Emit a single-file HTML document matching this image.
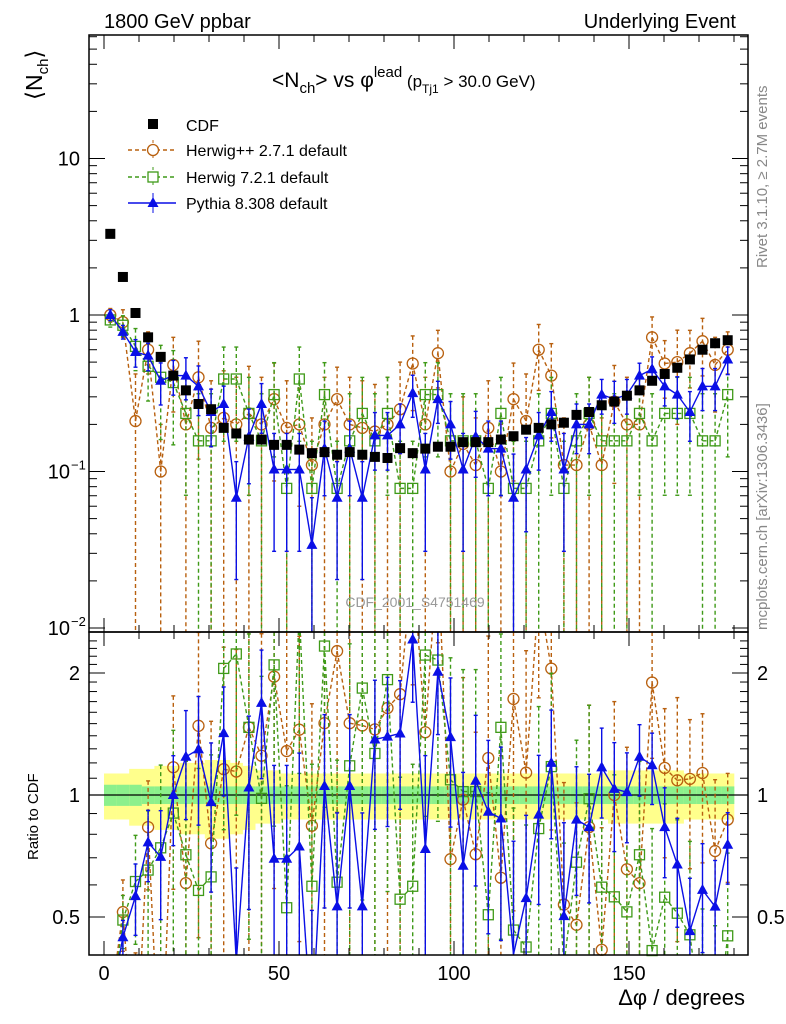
<!DOCTYPE html>
<html><head><meta charset="utf-8"><style>
html,body{margin:0;padding:0;background:#fff;width:786px;height:1024px;overflow:hidden;position:relative;}
svg{display:block;font-family:"Liberation Sans",sans-serif;overflow:hidden;}
</style></head><body>
<svg id="c" width="786" height="1024" viewBox="0 0 786 1024" style="position:absolute;left:0;top:0"></svg>
<script>
const binCenters=[1.8,5.4,9,12.6,16.2,19.8,23.4,27,30.6,34.2,37.8,41.4,45,48.6,52.2,55.8,59.4,63,66.6,70.2,73.8,77.4,81,84.6,88.2,91.8,95.4,99,102.6,106.2,109.8,113.4,117,120.6,124.2,127.8,131.4,135,138.6,142.2,145.8,149.4,153,156.6,160.2,163.8,167.4,171,174.6,178.2];
const cdf=[3.3,1.75,1.03,0.72,0.54,0.41,0.33,0.27,0.25,0.19,0.175,0.16,0.16,0.148,0.148,0.138,0.131,0.133,0.128,0.133,0.128,0.124,0.122,0.141,0.131,0.14,0.144,0.144,0.154,0.154,0.154,0.16,0.168,0.185,0.19,0.2,0.205,0.23,0.24,0.265,0.28,0.305,0.33,0.38,0.42,0.46,0.52,0.6,0.66,0.69];
const herwigPP=[1.0,0.9,0.21,0.6,0.1,0.48,0.2,0.4,0.19,0.22,0.2,0.235,0.2,0.29,0.19,0.2,0.11,0.2,0.29,0.2,0.19,0.18,0.2,0.25,0.49,0.2,0.57,0.1,0.15,0.11,0.19,0.1,0.29,0.21,0.6,0.41,0.11,0.11,0.2,0.11,0.28,0.2,0.2,0.72,0.49,0.5,0.57,0.68,0.48,0.6];
const herwig7=[0.93,0.86,0.63,0.47,0.4,0.37,0.235,0.157,0.157,0.39,0.39,0.235,0.157,0.31,0.078,0.39,0.078,0.31,0.078,0.157,0.235,0.157,0.235,0.078,0.078,0.31,0.31,0.157,0.157,0.157,0.078,0.235,0.078,0.078,0.157,0.235,0.078,0.157,0.235,0.157,0.157,0.157,0.235,0.157,0.235,0.235,0.235,0.157,0.157,0.31];
const pythia=[1.0,0.78,0.58,0.55,0.38,0.41,0.41,0.35,0.24,0.27,0.068,0.167,0.27,0.103,0.103,0.103,0.034,0.14,0.068,0.14,0.068,0.17,0.17,0.2,0.317,0.103,0.29,0.2,0.103,0.167,0.14,0.14,0.068,0.103,0.17,0.24,0.103,0.2,0.2,0.31,0.29,0.31,0.41,0.45,0.35,0.31,0.24,0.35,0.35,0.52];
const errPP=[0.1,0.2,1,0.3,1,0.5,1,0.7,1,1,1,1,1,0.7,1,0.7,1,1,0.6,1,1,1,1,1,0.5,1,0.4,1,1,1,1,1,0.7,1,0.45,0.6,1,1,1,1,0.7,1,1,0.35,0.4,0.6,0.4,0.4,0.5,0.3];
const err7=[0.1,0.15,0.3,0.4,0.6,0.6,0.7,1,1,0.6,0.6,0.7,1,0.6,1,0.6,1,0.6,1,1,0.7,1,0.7,1,1,0.6,0.6,1,1,1,1,0.7,1,1,1,0.7,1,1,0.7,1,1,1,0.7,1,0.7,0.7,0.7,1,1,0.6];
const errPy=[0.08,0.1,0.2,0.2,0.3,0.25,0.3,0.35,0.4,0.3,0.7,0.5,0.35,0.7,0.7,0.7,1,0.5,0.7,0.5,0.7,0.4,0.4,0.35,0.3,0.7,0.3,0.4,0.7,0.45,0.5,0.5,0.9,0.6,0.4,0.35,0.7,0.35,0.35,0.25,0.3,0.25,0.2,0.2,0.25,0.3,0.35,0.3,0.3,0.2];
const bandStat=[0.06,0.06,0.06,0.05,0.05,0.05,0.05,0.05,0.05,0.05,0.05,0.05,0.05,0.05,0.05,0.05,0.05,0.05,0.05,0.05,0.05,0.05,0.05,0.05,0.05,0.05,0.05,0.05,0.05,0.05,0.05,0.05,0.05,0.05,0.05,0.05,0.05,0.05,0.05,0.05,0.05,0.05,0.05,0.05,0.05,0.05,0.05,0.05,0.05,0.05];
const bandTot=[0.13,0.13,0.16,0.16,0.18,0.18,0.2,0.2,0.22,0.22,0.2,0.18,0.15,0.15,0.13,0.13,0.13,0.13,0.13,0.13,0.13,0.13,0.13,0.13,0.13,0.13,0.13,0.13,0.13,0.13,0.13,0.13,0.13,0.13,0.13,0.13,0.13,0.13,0.13,0.13,0.15,0.15,0.15,0.15,0.15,0.15,0.13,0.13,0.13,0.13];
const xTicks=[0,50,100,150];

const S=document.getElementById('c');const NS='http://www.w3.org/2000/svg';
function el(t,a,p){const e=document.createElementNS(NS,t);for(const k in a)e.setAttribute(k,a[k]);(p||S).appendChild(e);return e;}
const L=89,R=748,T=35,M=632,B=955;
const X=d=>104+3.5*d;
const Ym=v=>315-156.5*Math.log10(v);
const Yr=r=>795-122*Math.log2(r);
const hw=6.3;

const gBand=el('g',{});


binCenters.forEach((c,i)=>{
 el('rect',{x:X(c)-hw,y:Yr(1+bandTot[i]),width:2*hw+0.3,height:Yr(1-bandTot[i])-Yr(1+bandTot[i]),fill:'#ffff8c'},gBand);
 el('rect',{x:X(c)-hw,y:Yr(1+bandStat[i]),width:2*hw+0.3,height:Yr(1-bandStat[i])-Yr(1+bandStat[i]),fill:'#8cf08c'},gBand);
});
el('line',{x1:L,x2:R,y1:Yr(1),y2:Yr(1),stroke:'#000','stroke-width':1.3});

function marker(g,type,x,y,col){
 if(type==='sq')el('rect',{x:x-5,y:y-5,width:10,height:10,fill:'#000'},g);
 else if(type==='circ')el('circle',{cx:x,cy:y,r:5.5,fill:'none',stroke:col,'stroke-width':1.3},g);
 else if(type==='osq')el('rect',{x:x-5,y:y-5,width:10,height:10,fill:'none',stroke:col,'stroke-width':1.3},g);
 else el('polygon',{points:`${x},${y-6} ${x-5.5},${y+4} ${x+5.5},${y+4}`,fill:col},g);
}
function clipSeg(ax,ay,bx,by,y0,y1){
 let t0=0,t1=1;const dy=by-ay;
 if(dy===0){if(ay<y0||ay>y1)return null;return [ax,ay,bx,by];}
 let ta=(y0-ay)/dy,tb=(y1-ay)/dy;if(ta>tb)[ta,tb]=[tb,ta];
 t0=Math.max(t0,ta);t1=Math.min(t1,tb);if(t0>=t1)return null;
 return [ax+(bx-ax)*t0,ay+dy*t0,ax+(bx-ax)*t1,ay+dy*t1];
}
function series(name,vals,errs,col,type,dash){
 ['main','ratio'].forEach(panel=>{
  const g=el('g',{});
  
  
  const yf=panel==='main'?(v=>Ym(v)):((v,i)=>Yr(v/cdf[i]));
  const top=panel==='main'?T:M, bot=panel==='main'?M:B;
  const pts=vals.map((v,i)=>[X(binCenters[i]),yf(v,i)]);
  for(let i=0;i<pts.length-1;i++){
   const s=clipSeg(pts[i][0],pts[i][1],pts[i+1][0],pts[i+1][1],top,bot);
   if(s)el('line',{x1:s[0],y1:s[1],x2:s[2],y2:s[3],stroke:col,'stroke-width':1.4,'stroke-dasharray':dash||'none'},g);
  }
  vals.forEach((v,i)=>{
   const x=pts[i][0];
   let up=yf(v*(1+errs[i]),i);
   let lo=errs[i]>=0.99?bot:yf(v*(1-errs[i]),i);
   const upIn=up>=top&&up<=bot, loIn=lo>=top&&lo<=bot&&errs[i]<0.99;
   const a=Math.max(top,Math.min(bot,up)), b=Math.max(top,Math.min(bot,lo));
   if(b>a)el('line',{x1:x,x2:x,y1:a,y2:b,stroke:col,'stroke-width':1.4,'stroke-dasharray':dash||'none'},g);
   if(upIn)el('line',{x1:x-2,x2:x+2,y1:up,y2:up,stroke:col,'stroke-width':1.4},g);
   if(loIn)el('line',{x1:x-2,x2:x+2,y1:lo,y2:lo,stroke:col,'stroke-width':1.4},g);
   const my=pts[i][1];
   if(my>=top+3&&my<=bot-3)marker(g,type,x,my,col);
  });
 });
}
series('herwigpp-series',herwigPP,errPP,'#b8600f','circ','4,3');
series('herwig7-series',herwig7,err7,'#3f9a18','osq','4,3');
series('pythia-series',pythia,errPy,'#0a0fe6','tri',null);
const gc=el('g',{});


cdf.forEach((v,i)=>{const y=Ym(v);if(y>=T&&y<=M)marker(gc,'sq',X(binCenters[i]),y,'#000');});

el('rect',{x:L,y:T,width:R-L,height:M-T,fill:'none',stroke:'#000','stroke-width':1.5});
el('rect',{x:L,y:M,width:R-L,height:B-M,fill:'none',stroke:'#000','stroke-width':1.5});
for(let d=0;d<=180;d+=10){const big=d%50===0;const x=X(d);
 [[M,-1],[T,1],[B,-1],[M,1]].forEach(([y,s])=>el('line',{x1:x,x2:x,y1:y,y2:y+s*(big?14:7),stroke:'#000','stroke-width':1}));
}
xTicks.forEach(t=>{const e=el('text',{x:X(t),y:980,'font-size':20,'text-anchor':'middle'});e.textContent=t;
 });
for(let dec=-2;dec<=1;dec++){for(let m=1;m<10;m++){const v=m*Math.pow(10,dec);const y=Ym(v);if(y<T||y>M)continue;const len=m===1?16:8;
 el('line',{x1:L,x2:L+len,y1:y,y2:y,stroke:'#000'});el('line',{x1:R,x2:R-len,y1:y,y2:y,stroke:'#000'});}}
const yl=[[10,'10',''],[1,'1',''],[0.1,'10','−1'],[0.01,'10','−2']];
yl.forEach(([v,b,e])=>{const t=el('text',{x:e?70:80,y:Ym(v)+7,'font-size':20,'text-anchor':'end'});t.textContent=b;
 
 if(e){const s=el('text',{x:71,y:Ym(v)-2,'font-size':13});s.textContent=e;}});
for(let r=0.5;r<=2.5;r+=0.1){const y=Yr(r);if(y<M||y>B)continue;const big=Math.abs(r-0.5)<1e-6||Math.abs(r-1)<1e-6||Math.abs(r-2)<1e-6;const len=big?16:8;
 el('line',{x1:L,x2:L+len,y1:y,y2:y,stroke:'#000'});el('line',{x1:R,x2:R-len,y1:y,y2:y,stroke:'#000'});}
[[2,'2'],[1,'1'],[0.5,'0.5']].forEach(([r,s])=>{
 const a=el('text',{x:80,y:Yr(r)+7,'font-size':20,'text-anchor':'end'});a.textContent=s;
 
 const b=el('text',{x:757,y:Yr(r)+7,'font-size':20});b.textContent=s;
 });
</script>
<svg width="786" height="1024" style="position:absolute;left:0;top:0;pointer-events:none;font-family:'Liberation Sans',sans-serif">
<text x="104" y="28" font-size="20">1800 GeV ppbar</text>
<text x="736" y="28" font-size="20" text-anchor="end">Underlying Event</text>
<text x="272" y="87" font-size="21">&lt;N<tspan font-size="15" dy="6">ch</tspan><tspan dy="-6">&gt; vs φ</tspan><tspan font-size="15" dy="-10">lead</tspan><tspan font-size="17" dy="10"> (p</tspan><tspan font-size="12" dy="6">Tj1</tspan><tspan font-size="17" dy="-6"> &gt; 30.0 GeV)</tspan></text>
<g transform="translate(42,100) rotate(-90)"><text x="0" y="0" font-size="23">⟨N<tspan font-size="15" dy="6">ch</tspan><tspan dy="-6">⟩</tspan></text></g>
<g transform="translate(38,860) rotate(-90)"><text x="0" y="0" font-size="15">Ratio to CDF</text></g>
<text x="745" y="1005" font-size="22" text-anchor="end">Δφ / degrees</text>
<g transform="translate(767,268) rotate(-90)"><text font-size="15" fill="#888">Rivet 3.1.10, ≥ 2.7M events</text></g>
<g transform="translate(767,630) rotate(-90)"><text font-size="15" fill="#888">mcplots.cern.ch [arXiv:1306.3436]</text></g>
<text x="415" y="607" font-size="14" fill="#999" text-anchor="middle">CDF_2001_S4751469</text>
<g>
<g><rect x="148" y="119" width="10" height="10" fill="#000"/><text x="186" y="131" font-size="16">CDF</text></g>
<g><line x1="128" x2="176" y1="150" y2="150" stroke="#b8600f" stroke-width="1.4" stroke-dasharray="4,3"/><line x1="153" x2="153" y1="140" y2="160" stroke="#b8600f" stroke-dasharray="3,2"/><circle cx="153" cy="150" r="5.5" fill="#fff" stroke="#b8600f" stroke-width="1.3"/><text x="186" y="156" font-size="16">Herwig++ 2.7.1 default</text></g>
<g><line x1="128" x2="176" y1="177" y2="177" stroke="#3f9a18" stroke-width="1.4" stroke-dasharray="4,3"/><line x1="153" x2="153" y1="167" y2="187" stroke="#3f9a18" stroke-dasharray="3,2"/><rect x="148" y="172" width="10" height="10" fill="#fff" stroke="#3f9a18" stroke-width="1.3"/><text x="186" y="183" font-size="16">Herwig 7.2.1 default</text></g>
<g><line x1="128" x2="176" y1="203" y2="203" stroke="#0a0fe6" stroke-width="1.4"/><line x1="153" x2="153" y1="193" y2="213" stroke="#0a0fe6"/><polygon points="153,197 147.5,207 158.5,207" fill="#0a0fe6"/><text x="186" y="209" font-size="16">Pythia 8.308 default</text></g>
</g>
</svg>
</body></html>
